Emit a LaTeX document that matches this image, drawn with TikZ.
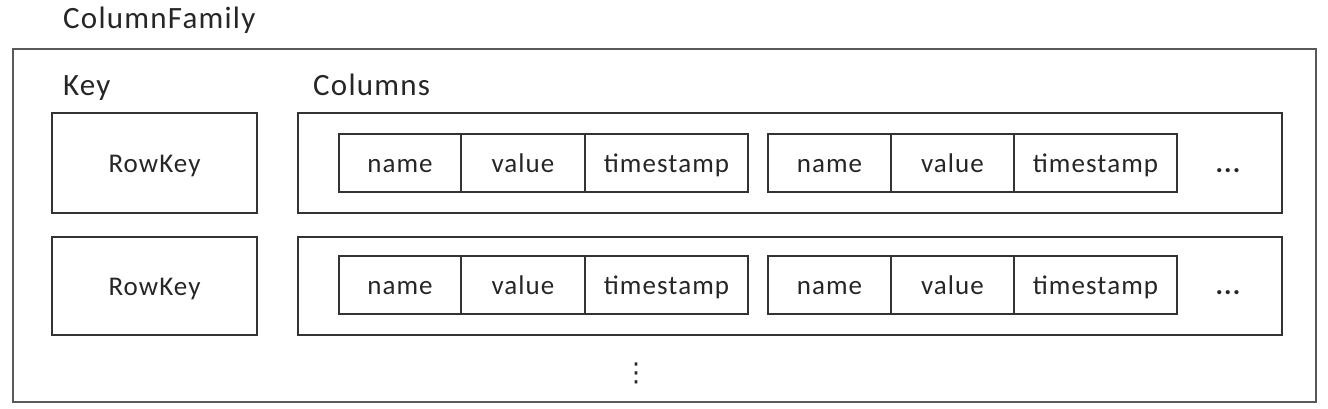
\documentclass[tikz,border=0pt]{standalone}
\usepackage{fontspec}
\setmainfont{Carlito}[LetterSpace=4]
\newfontfamily\dejavu{DejaVu Sans}
\usetikzlibrary{positioning}
\begin{document}
\begin{tikzpicture}[x=1pt,y=-1pt,
  frame/.style={draw=black!65,line width=2.6pt},
  box/.style={draw=black!80,line width=1.8pt,inner sep=0pt},
  celltext/.style={font=\fontsize{27}{30}\selectfont,text=black!85,text height=19pt,text depth=1pt},
  cell/.style={draw=black!80,line width=1.6pt,inner sep=0pt,minimum height=58pt,celltext},
  head/.style={anchor=base west,inner sep=0pt,font=\fontsize{31}{36}\selectfont,text=black!85},
  more/.style={inner sep=0pt,font=\fontsize{28}{30}\selectfont\bfseries,text=black!85,text height=19pt,text depth=1pt}]
\useasboundingbox (0,0) rectangle (1328,408);
\node[head] (cf) at (63,28) {ColumnFamily};
\draw[frame] (13,49) rectangle (1316,402);
\coordinate (fr) at (13,49);
\node[head] (key) at (63,95) {Key};
\node[head] (cols) at (313,95) {Columns};
\foreach \r/\yt/\yb/\cy in {1/113/213/163, 2/237/335/285}{
  \node[box,celltext,minimum width=205pt,minimum height={\yb-\yt}] (rk\r) at (154.5,{(\yt+\yb)/2}) {RowKey};
  \node[box,minimum width=984pt,minimum height={\yb-\yt}] (cb\r) at (790,{(\yt+\yb)/2}) {};
  \node[cell,minimum width=122pt] (n\r a) at (400,\cy) {name};
  \node[cell,minimum width=124pt] (v\r a) at (523,\cy) {value};
  \node[cell,minimum width=163pt] (t\r a) at (666.5,\cy) {timestamp};
  \node[cell,minimum width=123pt] (n\r b) at (829.5,\cy) {name};
  \node[cell,minimum width=123pt] (v\r b) at (952.5,\cy) {value};
  \node[cell,minimum width=163pt] (t\r b) at (1095.5,\cy) {timestamp};
  \node[more] (d\r) at (1228,\cy) {...};
}
\node[inner sep=0pt,text=black!85,font=\dejavu\fontsize{26}{30}\selectfont] (vd) at (636,373) {⋮};
\end{tikzpicture}
\end{document}
